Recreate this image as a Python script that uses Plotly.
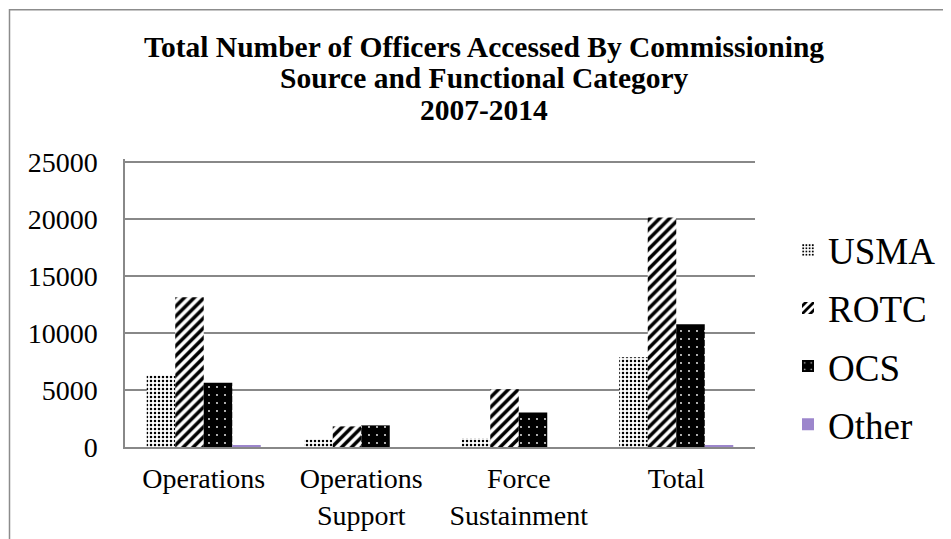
import plotly.graph_objects as go

categories = ["Operations", "Operations<br>Support", "Force<br>Sustainment", "Total"]
usma = [6280, 670, 790, 7880]
rotc = [13150, 1810, 5080, 20150]
ocs = [5640, 1900, 3040, 10780]
other = [130, 0, 0, 145]

y_ticks = [0, 5000, 10000, 15000, 20000, 25000]
y_max = 25300

title_lines = [
    "Total Number of Officers Accessed By Commissioning",
    "Source and Functional Category",
    "2007-2014",
]

W, H = 951, 539
OFF = 8  # default page margin of the html body
# value 0 at page y 447.5, value 25000 at page y 162; plot x 125..755
px_per_unit = (447.5 - 162) / 25000
top_page = 447.5 - y_max * px_per_unit
L = 125 - OFF
T = top_page - OFF
R = W - (755 - OFF)
B = H - (447.5 - OFF)
pw, ph = W - L - R, H - T - B

def px_x(px):
    return (px - OFF - L) / pw

def px_y(py):
    return (H - B - (py - OFF)) / ph

fig = go.Figure()
fig.add_trace(go.Bar(
    name="USMA", x=categories, y=usma, legendgroup="a",
    marker=dict(color="white", line=dict(width=0),
                pattern=dict(shape=".", fgcolor="black", bgcolor="white",
                             size=4, solidity=0.3, fillmode="replace")),
))
fig.add_trace(go.Bar(
    name="ROTC", x=categories, y=rotc, legendgroup="b",
    marker=dict(color="white", line=dict(width=0),
                pattern=dict(shape="/", fgcolor="black", bgcolor="white",
                             size=7, solidity=0.5, fillmode="replace")),
))
fig.add_trace(go.Bar(
    name="OCS", x=categories, y=ocs, legendgroup="c",
    marker=dict(color="black", line=dict(width=0),
                pattern=dict(shape=".", fgcolor="white", bgcolor="black",
                             size=8, solidity=0.04, fillmode="replace")),
))
fig.add_trace(go.Bar(
    name="Other", x=categories, y=other, legendgroup="d",
    marker=dict(color="#9c86cc", line=dict(width=0)),
))

serif = "Liberation Serif, Times New Roman, serif"
tick_font = dict(family=serif, size=28, color="black")

title_centers = [46, 77.5, 109]
annotations = []
for txt, cy in zip(title_lines, title_centers):
    annotations.append(dict(
        text=f"<b>{txt}</b>", showarrow=False,
        xref="paper", yref="paper", x=px_x(484), y=px_y(cy),
        xanchor="center", yanchor="middle",
        font=dict(family=serif, size=29.5, color="black"),
    ))

fig.update_layout(
    width=W, height=H,
    margin=dict(l=L, r=R, t=T, b=B, autoexpand=False),
    paper_bgcolor="white", plot_bgcolor="white",
    barmode="group", bargap=0.276, bargroupgap=0,
    annotations=annotations,
    xaxis=dict(
        showgrid=False, showline=True, linecolor="#888888", linewidth=1.5,
        ticks="", tickfont=tick_font, ticklabelstandoff=6,
    ),
    yaxis=dict(
        range=[0, y_max], tickvals=y_ticks, ticktext=[str(v) for v in y_ticks],
        showgrid=True, gridcolor="#888888", gridwidth=1.5,
        showline=True, linecolor="#888888", linewidth=1.5,
        zeroline=False, ticks="", tickfont=tick_font, ticklabelstandoff=20,
    ),
    legend=dict(
        x=px_x(788), xanchor="left", y=px_y(337.5), yanchor="middle",
        font=dict(family=serif, size=37, color="black"),
        bgcolor="rgba(0,0,0,0)", tracegroupgap=7, traceorder="grouped",
    ),
    showlegend=True,
)

fig.add_shape(
    type="path",
    path=f"M {px_x(9.5)} {px_y(560)} L {px_x(9.5)} {px_y(8.8)} L {px_x(945)} {px_y(8.8)}",
    xref="paper", yref="paper", line=dict(color="#8c8c8c", width=1.5),
    layer="above",
)

fig.write_html("out.html")
